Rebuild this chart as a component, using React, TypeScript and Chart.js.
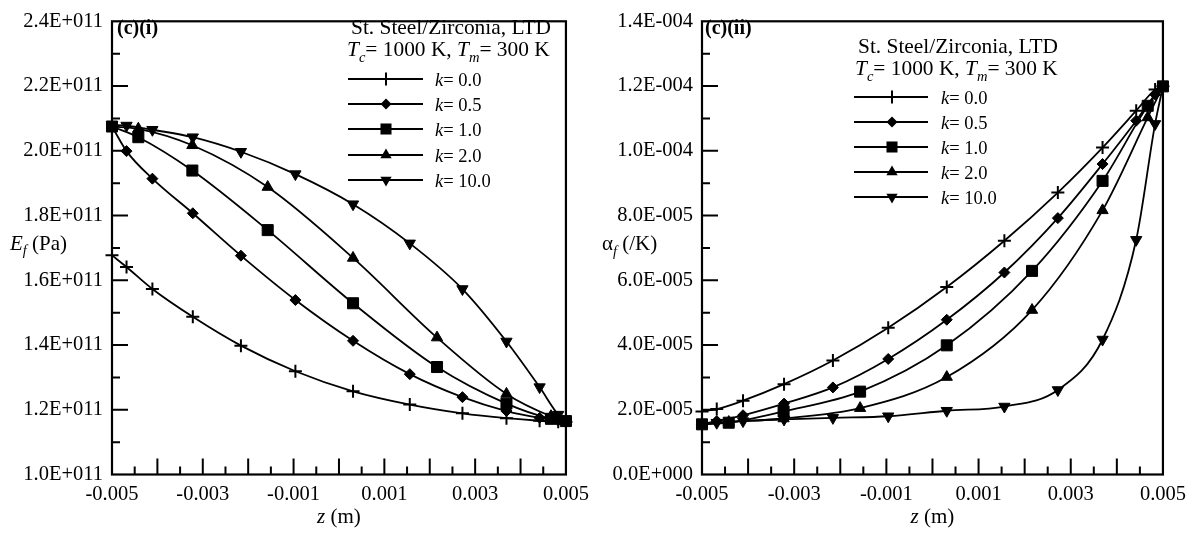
import React, { useEffect, useRef } from 'react';
import { Chart, registerables } from 'chart.js';
Chart.register(...registerables);

const FONT = "'Liberation Serif', 'Times New Roman', Times, serif";

// z positions (m)
const zA = [-0.005, -0.00468, -0.00411, -0.00322, -0.00216, -0.00096, 0.00031, 0.00156, 0.00272, 0.00369, 0.00442, 0.00483, 0.005];
const zB = [-0.005, -0.00442, -0.00323, -0.00157, 0.00031, 0.00216, 0.00369, 0.00467, 0.005];

const kLabels = ['0.0', '0.5', '1.0', '2.0', '10.0'];

// Young's modulus E_f (Pa)
const E_k0 = [1.677e11, 1.641e11, 1.573e11, 1.487e11, 1.398e11, 1.319e11, 1.257e11, 1.216e11, 1.189e11, 1.174e11, 1.166e11, 1.163e11, 1.162e11];
const E_k05 = [2.075e11, 1.999e11, 1.914e11, 1.807e11, 1.676e11, 1.539e11, 1.413e11, 1.31e11, 1.239e11, 1.196e11, 1.175e11, 1.167e11, 1.165e11];
const E_k1 = [2.075e11, 2.042e11, 1.939e11, 1.755e11, 1.529e11, 1.332e11, 1.219e11, 1.172e11, 1.165e11];
const E_k2 = [2.075e11, 2.068e11, 2.017e11, 1.888e11, 1.669e11, 1.423e11, 1.249e11, 1.18e11, 1.165e11];
const E_k10 = [2.08e11, 2.078e11, 2.065e11, 2.042e11, 1.997e11, 1.928e11, 1.835e11, 1.714e11, 1.573e11, 1.411e11, 1.27e11, 1.185e11, 1.165e11];

// Thermal expansion alpha_f (/K)
const A_k0 = [1.95e-5, 2.02e-5, 2.28e-5, 2.79e-5, 3.52e-5, 4.53e-5, 5.79e-5, 7.22e-5, 8.71e-5, 10.1e-5, 11.24e-5, 11.89e-5, 11.99e-5];
const A_k05 = [1.55e-5, 1.65e-5, 1.83e-5, 2.19e-5, 2.69e-5, 3.57e-5, 4.78e-5, 6.24e-5, 7.92e-5, 9.59e-5, 10.93e-5, 11.74e-5, 11.99e-5];
const A_k1 = [1.55e-5, 1.6e-5, 1.95e-5, 2.56e-5, 3.99e-5, 6.29e-5, 9.07e-5, 11.39e-5, 11.99e-5];
const A_k2 = [1.55e-5, 1.62e-5, 1.73e-5, 2.05e-5, 3.01e-5, 5.08e-5, 8.16e-5, 11.03e-5, 11.99e-5];
const A_k10 = [1.55e-5, 1.6e-5, 1.65e-5, 1.7e-5, 1.75e-5, 1.8e-5, 1.97e-5, 2.1e-5, 2.61e-5, 4.17e-5, 7.25e-5, 10.83e-5, 11.99e-5];

const xTickValues = [-0.005, -0.003, -0.001, 0.001, 0.003, 0.005];
const eTickValues = [1.0e11, 1.2e11, 1.4e11, 1.6e11, 1.8e11, 2.0e11, 2.2e11, 2.4e11];
const aTickValues = [0, 2e-5, 4e-5, 6e-5, 8e-5, 1.0e-4, 1.2e-4, 1.4e-4];

const markerStyles = ['cross', 'rectRot', 'rect', 'triangle', 'triangle'];
const markerRot = [0, 0, 0, 0, 180];
const markerRad = [6.5, 5.5, 7.8, 6.5, 6.5];

type Seg = { t: string; i?: boolean; b?: boolean; sub?: boolean };

function sci(v: number): string {
  if (Math.abs(v) < 1e-20) return '0.0E+000';
  const exp = Math.floor(Math.log10(Math.abs(v)) + 1e-9);
  const m = v / Math.pow(10, exp);
  return m.toFixed(1) + 'E' + (exp < 0 ? '-' : '+') + String(Math.abs(exp)).padStart(3, '0');
}

function setFont(ctx: CanvasRenderingContext2D, s: Seg, size: number) {
  const fs = s.sub ? size * 0.68 : size;
  ctx.font = `${s.i ? 'italic ' : ''}${s.b ? 'bold ' : ''}${fs}px ${FONT}`;
}
function measureRich(ctx: CanvasRenderingContext2D, segs: Seg[], size: number) {
  let w = 0;
  for (const s of segs) { setFont(ctx, s, size); w += ctx.measureText(s.t).width; }
  return w;
}
function drawRich(ctx: CanvasRenderingContext2D, x: number, y: number, segs: Seg[], size: number) {
  ctx.textAlign = 'left';
  ctx.textBaseline = 'alphabetic';
  let cx = x;
  for (const s of segs) {
    setFont(ctx, s, size);
    ctx.fillText(s.t, cx, s.sub ? y + size * 0.28 : y);
    cx += ctx.measureText(s.t).width;
  }
}

function drawMarker(ctx: CanvasRenderingContext2D, style: string, x: number, y: number, r: number, rotDeg: number) {
  const rad = (rotDeg * Math.PI) / 180;
  ctx.beginPath();
  if (style === 'cross') {
    ctx.moveTo(x, y - r); ctx.lineTo(x, y + r);
    ctx.moveTo(x - r, y); ctx.lineTo(x + r, y);
    ctx.lineWidth = 2;
    ctx.stroke();
    return;
  }
  if (style === 'rect') {
    const s = Math.SQRT1_2 * r;
    ctx.rect(x - s, y - s, 2 * s, 2 * s);
  } else if (style === 'rectRot') {
    ctx.moveTo(x - r, y); ctx.lineTo(x, y - r); ctx.lineTo(x + r, y); ctx.lineTo(x, y + r); ctx.closePath();
  } else if (style === 'triangle') {
    let a = rad;
    ctx.moveTo(x + Math.sin(a) * r, y - Math.cos(a) * r);
    a += (2 * Math.PI) / 3;
    ctx.lineTo(x + Math.sin(a) * r, y - Math.cos(a) * r);
    a += (2 * Math.PI) / 3;
    ctx.lineTo(x + Math.sin(a) * r, y - Math.cos(a) * r);
    ctx.closePath();
  }
  ctx.fill();
}

interface PanelSpec {
  series: { x: number[]; y: number[] }[];
  yMin: number; yMax: number; yTicks: number[];
  yWidth: number; padRight: number;
  panelLabel: string; panelX: number;
  yTitle: Seg[]; yTitleX: number; yTitleY: number;
  titleX1: number; titleY1: number; titleX2: number; titleY2: number;
  rows: number[]; lineX0: number; lineX1: number; markX: number; textX: number;
}

function makeConfig(p: PanelSpec): any {
  const datasets = p.series.map((s, i) => ({
    label: 'k= ' + kLabels[i],
    data: s.x.map((xv, j) => ({ x: xv, y: s.y[j] })),
    borderColor: '#000',
    backgroundColor: '#000',
    borderWidth: 1.8,
    pointStyle: markerStyles[i],
    pointRotation: markerRot[i],
    pointRadius: markerRad[i],
    pointBorderWidth: markerStyles[i] === 'cross' ? 2 : 1,
    pointBackgroundColor: '#000',
    pointBorderColor: '#000',
    cubicInterpolationMode: 'monotone',
    fill: false,
    clip: false,
  }));

  const overlay = {
    id: 'overlay',
    afterDraw(chart: any) {
      const ctx: CanvasRenderingContext2D = chart.ctx;
      const { left, right, top, bottom } = chart.chartArea;
      const xs = chart.scales.x;
      const ys = chart.scales.y;
      ctx.save();
      ctx.strokeStyle = '#000';
      ctx.fillStyle = '#000';
      // frame
      ctx.lineWidth = 2.2;
      ctx.strokeRect(left, top, right - left, bottom - top);
      // inward ticks
      ctx.lineWidth = 2;
      ctx.beginPath();
      for (let i = 1; i < 20; i++) {
        const v = -0.005 + i * 0.0005;
        const px = xs.getPixelForValue(v);
        const len = i % 2 === 0 ? 16 : 8;
        ctx.moveTo(px, bottom); ctx.lineTo(px, bottom - len);
      }
      for (let j = 1; j < 14; j++) {
        const v = p.yMin + (j * (p.yMax - p.yMin)) / 14;
        const py = ys.getPixelForValue(v);
        const len = j % 2 === 0 ? 16 : 8;
        ctx.moveTo(left, py); ctx.lineTo(left + len, py);
      }
      ctx.stroke();
      // panel label
      drawRich(ctx, p.panelX, 34, [{ t: p.panelLabel, b: true }], 20);
      // y title
      drawRich(ctx, p.yTitleX, p.yTitleY, p.yTitle, 21);
      // x title
      const xt: Seg[] = [{ t: 'z', i: true }, { t: ' (m)' }];
      const w = measureRich(ctx, xt, 21);
      drawRich(ctx, (left + right) / 2 - w / 2, 523, xt, 21);
      // legend title
      drawRich(ctx, p.titleX1, p.titleY1, [{ t: 'St. Steel/Zirconia, LTD' }], 21.4);
      drawRich(ctx, p.titleX2, p.titleY2, [
        { t: 'T', i: true }, { t: 'c', i: true, sub: true }, { t: '= 1000 K, ' },
        { t: 'T', i: true }, { t: 'm', i: true, sub: true }, { t: '= 300 K' },
      ], 21.4);
      // legend entries
      p.rows.forEach((ry, i) => {
        ctx.lineWidth = 2;
        ctx.beginPath();
        ctx.moveTo(p.lineX0, ry); ctx.lineTo(p.lineX1, ry);
        ctx.stroke();
        drawMarker(ctx, markerStyles[i], p.markX, ry, markerRad[i], markerRot[i]);
        drawRich(ctx, p.textX, ry + 6.5, [{ t: 'k', i: true }, { t: '= ' + kLabels[i] }], 18.5);
      });
      ctx.restore();
    },
  };

  return {
    type: 'line',
    data: { datasets },
    plugins: [overlay],
    options: {
      responsive: false,
      animation: false,
      events: [],
      layout: { padding: { top: 12, right: p.padRight, left: 0, bottom: 0 } },
      plugins: { legend: { display: false }, tooltip: { enabled: false }, title: { display: false } },
      scales: {
        x: {
          type: 'linear',
          min: -0.005,
          max: 0.005,
          grid: { display: false, drawTicks: false, tickLength: 0 },
          border: { display: false },
          afterBuildTicks: (s: any) => { s.ticks = xTickValues.map((v) => ({ value: v })); },
          afterFit: (s: any) => { s.height = 58.5; },
          ticks: {
            color: '#000',
            padding: 8,
            maxRotation: 0,
            autoSkip: false,
            font: { family: FONT, size: 20.5 },
            callback: (v: any) => Number(v).toFixed(3),
          },
        },
        y: {
          type: 'linear',
          min: p.yMin,
          max: p.yMax,
          grid: { display: false, drawTicks: false, tickLength: 0 },
          border: { display: false },
          afterBuildTicks: (s: any) => { s.ticks = p.yTicks.map((v) => ({ value: v })); },
          afterFit: (s: any) => { s.width = p.yWidth; },
          ticks: {
            color: '#000',
            padding: 9,
            autoSkip: false,
            font: { family: FONT, size: 20.5 },
            callback: (v: any) => sci(Number(v)),
          },
        },
      },
    },
  };
}

const leftSpec: PanelSpec = {
  series: [
    { x: zA, y: E_k0 }, { x: zA, y: E_k05 }, { x: zB, y: E_k1 }, { x: zB, y: E_k2 }, { x: zA, y: E_k10 },
  ],
  yMin: 1.0e11, yMax: 2.4e11, yTicks: eTickValues,
  yWidth: 112, padRight: 20,
  panelLabel: '(c)(i)', panelX: 117,
  yTitle: [{ t: 'E', i: true }, { t: 'f', i: true, sub: true }, { t: ' (Pa)' }], yTitleX: 10, yTitleY: 249.5,
  titleX1: 351, titleY1: 34, titleX2: 347, titleY2: 56,
  rows: [79, 104, 129, 155, 180], lineX0: 348, lineX1: 423, markX: 386, textX: 435,
};

const rightSpec: PanelSpec = {
  series: [
    { x: zA, y: A_k0 }, { x: zA, y: A_k05 }, { x: zB, y: A_k1 }, { x: zB, y: A_k2 }, { x: zA, y: A_k10 },
  ],
  yMin: 0, yMax: 1.4e-4, yTicks: aTickValues,
  yWidth: 105, padRight: 31,
  panelLabel: '(c)(ii)', panelX: 108,
  yTitle: [{ t: 'α' }, { t: 'f', i: true, sub: true }, { t: ' (/K)' }], yTitleX: 5, yTitleY: 250,
  titleX1: 261, titleY1: 52.5, titleX2: 258, titleY2: 75,
  rows: [97, 122, 147, 172, 197], lineX0: 257, lineX1: 331, markX: 295, textX: 344,
};

function Panel({ spec }: { spec: PanelSpec }) {
  const ref = useRef<HTMLCanvasElement | null>(null);
  useEffect(() => {
    if (!ref.current) return;
    const chart = new Chart(ref.current, makeConfig(spec));
    return () => chart.destroy();
  }, [spec]);
  return <canvas ref={ref} width={597} height={533} style={{ width: 597, height: 533, display: 'block' }} />;
}

export default function App() {
  return (
    <div style={{ position: 'fixed', left: 0, top: 0, width: 1194, height: 533, background: '#fff', display: 'flex' }}>
      <Panel spec={leftSpec} />
      <Panel spec={rightSpec} />
    </div>
  );
}
